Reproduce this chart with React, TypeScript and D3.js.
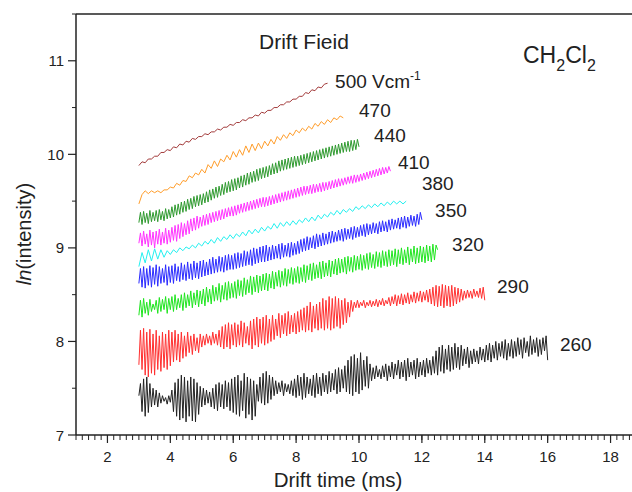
import React from 'react'
import * as d3 from 'd3'

// every trace starts at 3 ms; sampling step (ms) given per trace below
const T0 = 3

const v500 = [9.88, 9.92, 9.91, 9.95, 9.95, 9.98, 9.98, 10.02, 10.02, 10.05,
  10.04, 10.08, 10.07, 10.11, 10.10, 10.14, 10.13, 10.17, 10.16, 10.19,
  10.19, 10.22, 10.21, 10.24, 10.24, 10.27, 10.26, 10.29, 10.29, 10.32,
  10.31, 10.34, 10.34, 10.37, 10.36, 10.39, 10.39, 10.42, 10.41, 10.45,
  10.44, 10.47, 10.47, 10.50, 10.50, 10.53, 10.53, 10.56, 10.56, 10.59,
  10.59, 10.62, 10.62, 10.66, 10.65, 10.69, 10.68, 10.72, 10.71, 10.75, 10.76]

const v470 = [9.47, 9.57, 9.61, 9.58, 9.61, 9.59, 9.61, 9.59, 9.62, 9.62,
  9.65, 9.64, 9.69, 9.67, 9.72, 9.71, 9.77, 9.75, 9.80, 9.78,
  9.84, 9.80, 9.89, 9.85, 9.93, 9.87, 9.95, 9.92, 9.99, 9.94,
  10.03, 9.97, 10.05, 9.99, 10.09, 10.02, 10.11, 10.04, 10.12, 10.06,
  10.14, 10.09, 10.16, 10.11, 10.19, 10.15, 10.21, 10.17, 10.23, 10.20,
  10.26, 10.23, 10.28, 10.25, 10.30, 10.27, 10.33, 10.30, 10.35, 10.32,
  10.37, 10.34, 10.39, 10.37, 10.41, 10.39]

const v440 = [9.27, 9.38, 9.25, 9.39, 9.27, 9.37, 9.26, 9.40, 9.28, 9.38, 9.29, 9.40, 9.28, 9.41, 9.30, 9.39, 9.29, 9.42, 9.31, 9.41,
  9.32, 9.44, 9.33, 9.46, 9.35, 9.47, 9.36, 9.49, 9.38, 9.50, 9.39, 9.52, 9.41, 9.53, 9.42, 9.55, 9.44, 9.56, 9.45, 9.57,
  9.46, 9.58, 9.48, 9.60, 9.49, 9.62, 9.51, 9.63, 9.53, 9.65, 9.54, 9.66, 9.56, 9.68, 9.57, 9.70, 9.59, 9.71, 9.60, 9.73,
  9.61, 9.74, 9.62, 9.75, 9.64, 9.77, 9.65, 9.78, 9.67, 9.80, 9.68, 9.81, 9.70, 9.82, 9.71, 9.84, 9.72, 9.85, 9.74, 9.86,
  9.75, 9.87, 9.76, 9.88, 9.78, 9.90, 9.79, 9.91, 9.80, 9.93, 9.82, 9.94, 9.83, 9.95, 9.84, 9.96, 9.85, 9.97, 9.86, 9.98,
  9.87, 9.98, 9.88, 9.99, 9.89, 10.00, 9.90, 10.01, 9.91, 10.02, 9.92, 10.03, 9.93, 10.04, 9.94, 10.05, 9.95, 10.06, 9.96, 10.07,
  9.97, 10.08, 9.98, 10.09, 9.99, 10.10, 10.00, 10.11, 10.01, 10.12, 10.02, 10.13, 10.03, 10.14, 10.03, 10.15, 10.04, 10.15, 10.05, 10.16,
  10.08]

const v410 = [9.05, 9.16, 9.02, 9.18, 9.04, 9.15, 9.01, 9.19, 9.03, 9.17, 9.00, 9.18, 9.04, 9.20, 9.03, 9.17, 9.05, 9.21, 9.04, 9.19,
  9.06, 9.22, 9.08, 9.24, 9.07, 9.25, 9.10, 9.27, 9.12, 9.26, 9.14, 9.29, 9.15, 9.31, 9.18, 9.32, 9.19, 9.34, 9.21, 9.33,
  9.23, 9.35, 9.24, 9.36, 9.25, 9.37, 9.27, 9.38, 9.28, 9.39, 9.29, 9.40, 9.30, 9.41, 9.31, 9.42, 9.33, 9.43, 9.34, 9.44,
  9.34, 9.45, 9.35, 9.46, 9.37, 9.47, 9.38, 9.48, 9.39, 9.49, 9.40, 9.50, 9.41, 9.51, 9.42, 9.52, 9.43, 9.53, 9.44, 9.54,
  9.44, 9.54, 9.45, 9.55, 9.46, 9.56, 9.47, 9.57, 9.48, 9.58, 9.49, 9.59, 9.50, 9.60, 9.51, 9.61, 9.52, 9.62, 9.53, 9.63,
  9.54, 9.64, 9.55, 9.65, 9.56, 9.66, 9.57, 9.66, 9.58, 9.67, 9.58, 9.68, 9.59, 9.68, 9.60, 9.69, 9.60, 9.70, 9.61, 9.70,
  9.62, 9.71, 9.63, 9.72, 9.64, 9.73, 9.65, 9.74, 9.66, 9.74, 9.67, 9.75, 9.68, 9.76, 9.69, 9.77, 9.69, 9.78, 9.70, 9.78,
  9.71, 9.79, 9.72, 9.80, 9.73, 9.81, 9.74, 9.82, 9.75, 9.83, 9.76, 9.84, 9.77, 9.85, 9.78, 9.86, 9.79, 9.86, 9.80, 9.87,
  9.82]

const v380 = [8.80, 8.95, 8.84, 8.98, 8.86, 8.99, 8.88, 8.98, 8.90, 8.97,
  8.93, 8.98, 8.95, 9.00, 8.97, 9.01, 8.99, 9.03, 9.00, 9.05,
  9.02, 9.07, 9.04, 9.09, 9.05, 9.11, 9.07, 9.12, 9.09, 9.14,
  9.10, 9.15, 9.12, 9.17, 9.13, 9.19, 9.15, 9.20, 9.16, 9.22,
  9.18, 9.23, 9.20, 9.26, 9.21, 9.27, 9.23, 9.28, 9.24, 9.29,
  9.25, 9.30, 9.27, 9.32, 9.28, 9.33, 9.29, 9.35, 9.31, 9.36,
  9.33, 9.38, 9.35, 9.40, 9.36, 9.41, 9.38, 9.42, 9.39, 9.44,
  9.41, 9.45, 9.42, 9.46, 9.43, 9.47, 9.44, 9.48, 9.45, 9.49,
  9.46, 9.50, 9.47, 9.50, 9.47, 9.50]

const v350 = [8.62, 8.78, 8.58, 8.80, 8.57, 8.78, 8.60, 8.81, 8.58, 8.79, 8.61, 8.82, 8.59, 8.80, 8.62, 8.78, 8.63, 8.82, 8.60, 8.80,
  8.63, 8.81, 8.62, 8.83, 8.65, 8.80, 8.64, 8.84, 8.66, 8.82, 8.65, 8.85, 8.67, 8.83, 8.66, 8.86, 8.68, 8.84, 8.67, 8.86,
  8.69, 8.87, 8.70, 8.85, 8.71, 8.88, 8.72, 8.90, 8.73, 8.88, 8.74, 8.91, 8.75, 8.90, 8.74, 8.92, 8.76, 8.93, 8.77, 8.92,
  8.77, 8.94, 8.78, 8.95, 8.79, 8.94, 8.80, 8.97, 8.81, 8.96, 8.82, 8.98, 8.81, 9.00, 8.83, 8.99, 8.84, 9.01, 8.85, 9.02,
  8.85, 9.03, 8.86, 9.01, 8.87, 9.03, 8.88, 9.02, 8.89, 9.04, 8.88, 9.05, 8.90, 9.03, 8.91, 9.05, 8.90, 9.06, 8.92, 9.05,
  8.93, 9.07, 8.94, 9.09, 8.96, 9.10, 8.97, 9.12, 8.98, 9.11, 9.00, 9.13, 8.99, 9.15, 9.01, 9.14, 9.02, 9.16, 9.03, 9.15,
  9.04, 9.17, 9.05, 9.18, 9.06, 9.17, 9.07, 9.19, 9.08, 9.20, 9.07, 9.21, 9.09, 9.20, 9.10, 9.22, 9.09, 9.23, 9.11, 9.22,
  9.12, 9.24, 9.13, 9.25, 9.12, 9.26, 9.14, 9.25, 9.15, 9.27, 9.16, 9.26, 9.15, 9.28, 9.17, 9.29, 9.18, 9.28, 9.17, 9.30,
  9.19, 9.31, 9.20, 9.30, 9.21, 9.32, 9.20, 9.33, 9.22, 9.34, 9.21, 9.33, 9.23, 9.35, 9.24, 9.34, 9.23, 9.36, 9.25, 9.38,
  9.30]

const v320 = [8.28, 8.44, 8.26, 8.46, 8.30, 8.42, 8.28, 8.45, 8.32, 8.40, 8.34, 8.44, 8.30, 8.47, 8.32, 8.45, 8.34, 8.48, 8.30, 8.46,
  8.34, 8.48, 8.32, 8.50, 8.34, 8.46, 8.36, 8.50, 8.33, 8.52, 8.36, 8.50, 8.38, 8.54, 8.36, 8.52, 8.39, 8.55, 8.37, 8.54,
  8.40, 8.56, 8.38, 8.58, 8.42, 8.56, 8.40, 8.60, 8.43, 8.58, 8.44, 8.62, 8.42, 8.60, 8.45, 8.63, 8.44, 8.64, 8.46, 8.62,
  8.47, 8.64, 8.46, 8.66, 8.49, 8.65, 8.48, 8.68, 8.50, 8.66, 8.52, 8.70, 8.50, 8.69, 8.53, 8.71, 8.52, 8.70, 8.54, 8.72,
  8.55, 8.73, 8.54, 8.72, 8.57, 8.75, 8.56, 8.74, 8.59, 8.76, 8.58, 8.75, 8.60, 8.78, 8.59, 8.77, 8.62, 8.79, 8.61, 8.78,
  8.63, 8.80, 8.62, 8.79, 8.64, 8.82, 8.63, 8.81, 8.66, 8.83, 8.65, 8.84, 8.67, 8.82, 8.68, 8.85, 8.67, 8.86, 8.69, 8.84,
  8.70, 8.87, 8.69, 8.86, 8.72, 8.88, 8.71, 8.89, 8.73, 8.88, 8.74, 8.90, 8.72, 8.91, 8.75, 8.90, 8.74, 8.92, 8.76, 8.91,
  8.77, 8.93, 8.76, 8.92, 8.78, 8.94, 8.77, 8.95, 8.79, 8.93, 8.78, 8.96, 8.80, 8.95, 8.79, 8.97, 8.81, 8.96, 8.80, 8.98,
  8.81, 8.97, 8.82, 8.99, 8.80, 8.98, 8.83, 9.00, 8.82, 8.98, 8.84, 9.01, 8.82, 8.99, 8.85, 9.02, 8.83, 9.00, 8.84, 9.02,
  8.85, 9.01, 8.84, 9.03, 8.86, 9.02, 8.85, 9.04, 8.87, 9.03, 8.98]

const v290 = [7.75, 8.12, 7.70, 8.14, 7.64, 8.10, 7.62, 8.13, 7.66, 8.08, 7.64, 8.12, 7.70, 8.06, 7.68, 8.10, 7.72, 8.08, 7.70, 8.12,
  7.74, 8.10, 7.78, 8.12, 7.80, 8.08, 7.78, 8.10, 7.82, 8.06, 7.84, 8.10, 7.88, 8.06, 7.86, 8.08, 7.90, 8.04, 7.88, 8.08,
  7.94, 8.06, 7.96, 8.08, 7.98, 8.06, 7.96, 8.10, 7.98, 8.08, 7.96, 8.12, 7.94, 8.16, 7.92, 8.18, 7.94, 8.20, 7.92, 8.18,
  7.96, 8.20, 7.94, 8.18, 7.96, 8.22, 7.94, 8.20, 7.98, 8.16, 7.96, 8.22, 7.92, 8.24, 7.96, 8.26, 7.94, 8.24, 7.98, 8.26,
  7.96, 8.28, 7.98, 8.24, 8.00, 8.28, 8.02, 8.24, 8.06, 8.30, 8.04, 8.28, 8.08, 8.30, 8.06, 8.32, 8.08, 8.28, 8.10, 8.30,
  8.08, 8.32, 8.10, 8.34, 8.12, 8.36, 8.10, 8.38, 8.12, 8.42, 8.10, 8.38, 8.14, 8.40, 8.12, 8.42, 8.14, 8.46, 8.12, 8.44,
  8.14, 8.48, 8.12, 8.46, 8.14, 8.48, 8.16, 8.46, 8.14, 8.44, 8.18, 8.46, 8.20, 8.42, 8.26, 8.44, 8.32, 8.42, 8.36, 8.44,
  8.36, 8.42, 8.38, 8.44, 8.36, 8.42, 8.38, 8.44, 8.37, 8.43, 8.38, 8.45, 8.37, 8.44, 8.39, 8.46, 8.38, 8.44, 8.40, 8.47,
  8.38, 8.48, 8.40, 8.50, 8.38, 8.49, 8.40, 8.51, 8.39, 8.50, 8.41, 8.52, 8.40, 8.50, 8.42, 8.53, 8.41, 8.52, 8.43, 8.54,
  8.42, 8.53, 8.44, 8.55, 8.42, 8.56, 8.40, 8.58, 8.38, 8.60, 8.37, 8.59, 8.38, 8.61, 8.36, 8.60, 8.38, 8.59, 8.37, 8.60,
  8.38, 8.58, 8.40, 8.57, 8.42, 8.56, 8.44, 8.54, 8.46, 8.55, 8.47, 8.54, 8.46, 8.56, 8.48, 8.54, 8.47, 8.57, 8.46, 8.58,
  8.44]

const v260 = [7.42, 7.55, 7.25, 7.60, 7.20, 7.62, 7.24, 7.55, 7.30, 7.50, 7.32, 7.48, 7.30, 7.45, 7.34, 7.42, 7.36, 7.40, 7.33, 7.42,
  7.35, 7.48, 7.25, 7.56, 7.20, 7.60, 7.16, 7.64, 7.18, 7.62, 7.14, 7.58, 7.20, 7.62, 7.15, 7.60, 7.14, 7.56, 7.22, 7.52,
  7.30, 7.50, 7.32, 7.48, 7.34, 7.46, 7.30, 7.50, 7.28, 7.54, 7.26, 7.56, 7.30, 7.54, 7.28, 7.58, 7.30, 7.56, 7.26, 7.60,
  7.24, 7.62, 7.22, 7.64, 7.20, 7.58, 7.26, 7.66, 7.18, 7.62, 7.22, 7.60, 7.16, 7.58, 7.20, 7.54, 7.36, 7.62, 7.34, 7.66,
  7.32, 7.68, 7.34, 7.64, 7.38, 7.62, 7.42, 7.58, 7.44, 7.56, 7.46, 7.58, 7.42, 7.55, 7.46, 7.54, 7.44, 7.58, 7.42, 7.60,
  7.40, 7.64, 7.42, 7.62, 7.38, 7.66, 7.40, 7.62, 7.44, 7.60, 7.42, 7.64, 7.40, 7.66, 7.44, 7.62, 7.42, 7.66, 7.46, 7.64,
  7.44, 7.68, 7.46, 7.66, 7.48, 7.70, 7.44, 7.72, 7.46, 7.70, 7.50, 7.74, 7.46, 7.80, 7.44, 7.84, 7.42, 7.86, 7.46, 7.82,
  7.44, 7.88, 7.48, 7.80, 7.52, 7.84, 7.50, 7.76, 7.58, 7.72, 7.60, 7.74, 7.62, 7.70, 7.60, 7.74, 7.62, 7.76, 7.58, 7.74,
  7.62, 7.78, 7.60, 7.76, 7.64, 7.80, 7.60, 7.78, 7.62, 7.80, 7.58, 7.82, 7.62, 7.78, 7.64, 7.80, 7.60, 7.82, 7.62, 7.78,
  7.64, 7.80, 7.62, 7.82, 7.66, 7.80, 7.64, 7.84, 7.66, 7.90, 7.64, 7.94, 7.68, 7.96, 7.66, 7.92, 7.70, 7.96, 7.68, 7.94,
  7.70, 7.98, 7.72, 7.94, 7.70, 7.96, 7.74, 7.92, 7.76, 7.94, 7.72, 7.90, 7.76, 7.92, 7.78, 7.90, 7.76, 7.94, 7.80, 7.92,
  7.78, 7.96, 7.80, 7.98, 7.78, 7.96, 7.82, 8.00, 7.80, 7.98, 7.84, 8.00, 7.82, 8.02, 7.80, 7.98, 7.84, 8.02, 7.82, 8.00,
  7.84, 8.04, 7.86, 8.02, 7.82, 8.04, 7.88, 8.00, 7.84, 8.06, 7.86, 8.02, 7.88, 8.04, 7.84, 8.02, 7.86, 8.04, 7.90, 8.06,
  7.80]

const fields = ['500', '470', '440', '410', '380', '350', '320', '290', '260']
const traces = [v500, v470, v440, v410, v380, v350, v320, v290, v260]
const steps = [0.1, 0.1, 0.05, 0.05, 0.1, 0.05, 0.05, 0.05, 0.05]
const colors = ['#a33b3b', '#ff9d2a', '#2f9a2f', '#ff33ff', '#22f0f0', '#2b2bff', '#1fe51f', '#ff3030', '#222222']
// label anchors in data units (drift time, ln intensity)
const labelX = [9.24, 10.0, 10.48, 11.24, 12.0, 12.42, 12.96, 14.39, 16.39]
const labelY = [10.71, 10.40, 10.13, 9.845, 9.62, 9.33, 8.97, 8.52, 7.90]

const xMajor = d3.range(2, 19, 2)
const xMinor = d3.range(1, 19.01, 0.2)
const yMajor = [7, 8, 9, 10, 11]
const yMinor = [7.5, 8.5, 9.5, 10.5, 11.5]

export default function App() {
  const width = 632
  const height = 492
  const x = d3.scaleLinear().domain([1, 19]).range([76, 642])
  const y = d3.scaleLinear().domain([7, 11.5]).range([435, 14])
  const font = '"Liberation Sans", Arial, sans-serif'

  return (
    <svg width={width} height={height} style={{ position: 'absolute', left: 0, top: 0, background: '#fff' }}
      fontFamily={font}>
      {traces.map((t, i) => {
        const line = d3.line<number>()
          .x((_, j) => x(T0 + j * steps[i]))
          .y(d => y(d))
        return (
          <path key={fields[i]} d={line(t) || ''} fill="none" stroke={colors[i]} strokeWidth={1} strokeLinejoin="round" />
        )
      })}

      {/* frame */}
      <line x1={76} x2={width} y1={14} y2={14} stroke="#222" strokeWidth={1.5} />
      <line x1={76} x2={76} y1={14} y2={435} stroke="#222" strokeWidth={1.5} />
      <line x1={76} x2={width} y1={435} y2={435} stroke="#222" strokeWidth={1.5} />

      {xMinor.map(v => (
        <line key={'xm' + v} x1={x(v)} x2={x(v)} y1={435} y2={440} stroke="#222" strokeWidth={1} />
      ))}
      {xMajor.map(v => (
        <g key={'xM' + v}>
          <line x1={x(v)} x2={x(v)} y1={435} y2={443} stroke="#222" strokeWidth={1.2} />
          <text x={x(v)} y={462} textAnchor="middle" fontSize={15} fill="#222">{v}</text>
        </g>
      ))}
      {yMinor.map(v => (
        <line key={'ym' + v} x1={72} x2={76} y1={y(v)} y2={y(v)} stroke="#222" strokeWidth={1} />
      ))}
      {yMajor.map(v => (
        <g key={'yM' + v}>
          <line x1={68} x2={76} y1={y(v)} y2={y(v)} stroke="#222" strokeWidth={1.2} />
          <text x={64} y={y(v) + 5.5} textAnchor="end" fontSize={15} fill="#222">{v}</text>
        </g>
      ))}

      <text x={338} y={487} textAnchor="middle" fontSize={20.5} fill="#222">Drift time (ms)</text>
      <text transform="translate(31,234) rotate(-90)" textAnchor="middle" fontSize={20} fill="#222">
        <tspan fontStyle="italic">ln</tspan>(intensity)
      </text>

      <text x={259} y={49} fontSize={21} fill="#222">Drift Fieid</text>
      <text x={523} y={63} fontSize={23} fill="#222">
        CH<tspan dy={8} fontSize={16}>2</tspan><tspan dy={-8}>Cl</tspan><tspan dy={8} fontSize={16}>2</tspan>
      </text>

      {fields.map((f, i) => (
        <text key={'lab' + f} x={x(labelX[i])} y={y(labelY[i])} fontSize={19} fill="#222">
          {f}
          {i === 0 && <tspan> Vcm</tspan>}
          {i === 0 && <tspan dy={-8} fontSize={12}>-1</tspan>}
        </text>
      ))}
    </svg>
  )
}
